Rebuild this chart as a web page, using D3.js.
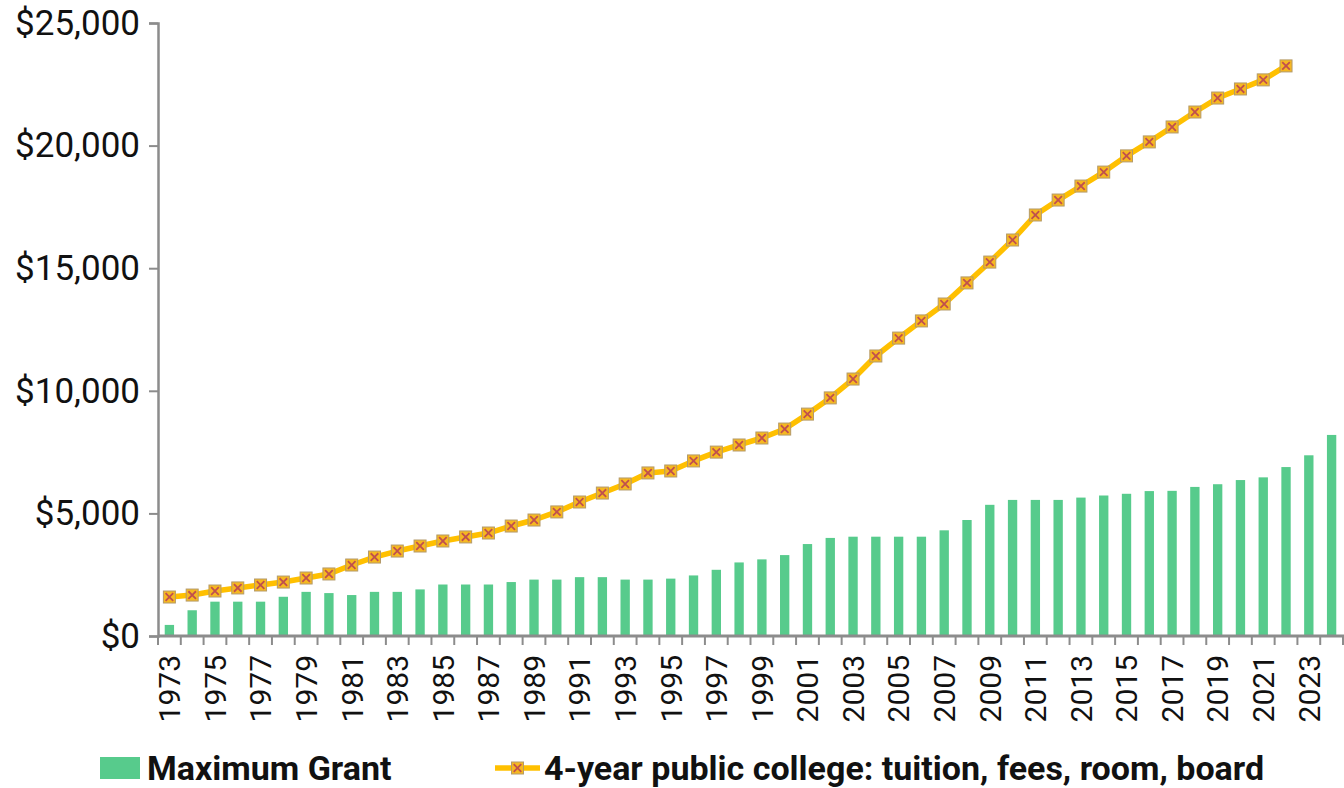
<!DOCTYPE html>
<html>
<head>
<meta charset="utf-8">
<script src="https://cdn.jsdelivr.net/npm/d3@7"></script>
<style>
  body { margin: 0; background: #fff; }
  svg { display: block; }
  text { font-family: Roboto, "Noto Sans", sans-serif; }
</style>
</head>
<body>
<svg id="chart" width="1344" height="788"></svg>
<script>
// ---- data ----
const years = ["1973","1974","1975","1976","1977","1978","1979","1980","1981","1982",
  "1983","1984","1985","1986","1987","1988","1989","1990","1991","1992",
  "1993","1994","1995","1996","1997","1998","1999","2000","2001","2002",
  "2003","2004","2005","2006","2007","2008","2009","2010","2011","2012",
  "2013","2014","2015","2016","2017","2018","2019","2020","2021","2022",
  "2023","2024"];

const maxGrant = [452,1050,1400,1400,1400,1600,1800,1750,1670,1800,
  1800,1900,2100,2100,2100,2200,2300,2300,2400,2400,
  2300,2300,2340,2470,2700,3000,3125,3300,3750,4000,
  4050,4050,4050,4050,4310,4731,5350,5550,5550,5550,
  5645,5730,5800,5910,5920,6080,6190,6360,6470,6890,
  7370,8200];

const collegeYears = years.slice(0, 50); // 1973 - 2022
const collegeCost = [1590,1670,1835,1960,2080,2200,2365,2530,2895,3220,
  3465,3670,3875,4040,4200,4485,4730,5060,5465,5830,
  6200,6650,6730,7140,7500,7790,8075,8440,9050,9710,
  10480,11420,12150,12850,13540,14400,15250,16150,17170,17780,
  18350,18920,19580,20150,20760,21370,21940,22310,22680,23250];

const yTicks = [0, 5000, 10000, 15000, 20000, 25000];
const seriesNames = ["Maximum Grant", "4-year public college: tuition, fees, room, board"];

// ---- layout ----
const svg = d3.select("#chart");
const mLeft = 158, mRight = 1343, mTop = 23, mBottom = 636;

const x = d3.scaleBand().domain(years).range([mLeft, mRight]).padding(0);
const y = d3.scaleLinear().domain([0, 25000]).range([mBottom, mTop]);
const bw = x.bandwidth();
const barW = bw * 0.41;

const axisColor = "#8c8c8c";
const barColor = "#57CB8C";
const lineColor = "#FFC000";
const xColor = "#C0504D";

// bars
svg.append("g").selectAll("rect")
  .data(years.map((yr, i) => ({ yr, v: maxGrant[i] })))
  .join("rect")
  .attr("x", d => x(d.yr) + (bw - barW) / 2)
  .attr("y", d => y(d.v))
  .attr("width", barW)
  .attr("height", d => y(0) - y(d.v))
  .attr("fill", barColor);

// y axis
const yAxis = svg.append("g")
  .attr("transform", `translate(${mLeft},0)`)
  .call(d3.axisLeft(y).tickValues(yTicks).tickFormat(d3.format("$,")).tickSize(9).tickPadding(9));
yAxis.select(".domain").attr("stroke", axisColor).attr("stroke-width", 2.5);
yAxis.selectAll(".tick line").attr("stroke", axisColor).attr("stroke-width", 2);
yAxis.selectAll(".tick text").attr("font-size", 35).attr("fill", "#111");

// x axis (labels at band centres, ticks at band boundaries)
const xAxis = svg.append("g")
  .attr("transform", `translate(0,${mBottom})`)
  .call(d3.axisBottom(x).tickSize(0).tickFormat(d => (+d % 2 === 1 ? d : "")));
xAxis.select(".domain").remove();
xAxis.selectAll(".tick text")
  .attr("font-size", 30)
  .attr("fill", "#111")
  .attr("transform", "rotate(-90)")
  .attr("text-anchor", "end")
  .attr("x", -19)
  .attr("y", 0)
  .attr("dy", "0.36em");

const boundaries = years.map(yr => x(yr)).concat([x(years[years.length - 1]) + bw]);
svg.append("g").selectAll("line")
  .data(boundaries)
  .join("line")
  .attr("x1", d => d).attr("x2", d => d)
  .attr("y1", mBottom).attr("y2", mBottom + 9)
  .attr("stroke", axisColor).attr("stroke-width", 2);
svg.append("line")
  .attr("x1", mLeft).attr("x2", mRight + 1)
  .attr("y1", mBottom).attr("y2", mBottom)
  .attr("stroke", axisColor).attr("stroke-width", 3);

// line series
const pts = collegeYears.map((yr, i) => ({ yr, v: collegeCost[i] }));
const line = d3.line().x(d => x(d.yr) + bw / 2).y(d => y(d.v));
svg.append("path")
  .datum(pts)
  .attr("d", line)
  .attr("fill", "none")
  .attr("stroke", lineColor)
  .attr("stroke-width", 5.5)
  .attr("stroke-linejoin", "round");

function marker(g, cx, cy) {
  const s = 12;
  g.append("rect")
    .attr("x", cx - s / 2).attr("y", cy - s / 2)
    .attr("width", s).attr("height", s)
    .attr("fill", "#F6B820").attr("stroke", "#b49a6a").attr("stroke-width", 1);
  const k = 3.8;
  g.append("path")
    .attr("d", `M${cx - k},${cy - k}L${cx + k},${cy + k}M${cx - k},${cy + k}L${cx + k},${cy - k}`)
    .attr("stroke", xColor).attr("stroke-width", 1.8).attr("fill", "none");
}
const mg = svg.append("g");
pts.forEach(d => marker(mg, x(d.yr) + bw / 2, y(d.v)));

// legend
const lg = svg.append("g");
lg.append("rect").attr("x", 100).attr("y", 757).attr("width", 40).attr("height", 22).attr("fill", barColor);
lg.append("text").attr("x", 147).attr("y", 768).attr("dy", "0.36em")
  .attr("font-size", 34).attr("font-weight", "bold").attr("fill", "#111").text(seriesNames[0]);
lg.append("line").attr("x1", 495).attr("x2", 540).attr("y1", 768).attr("y2", 768)
  .attr("stroke", lineColor).attr("stroke-width", 5.5);
marker(lg, 517.5, 768);
lg.append("text").attr("x", 544).attr("y", 768).attr("dy", "0.36em")
  .attr("font-size", 34).attr("font-weight", "bold").attr("fill", "#111").text(seriesNames[1]);
</script>
</body>
</html>
